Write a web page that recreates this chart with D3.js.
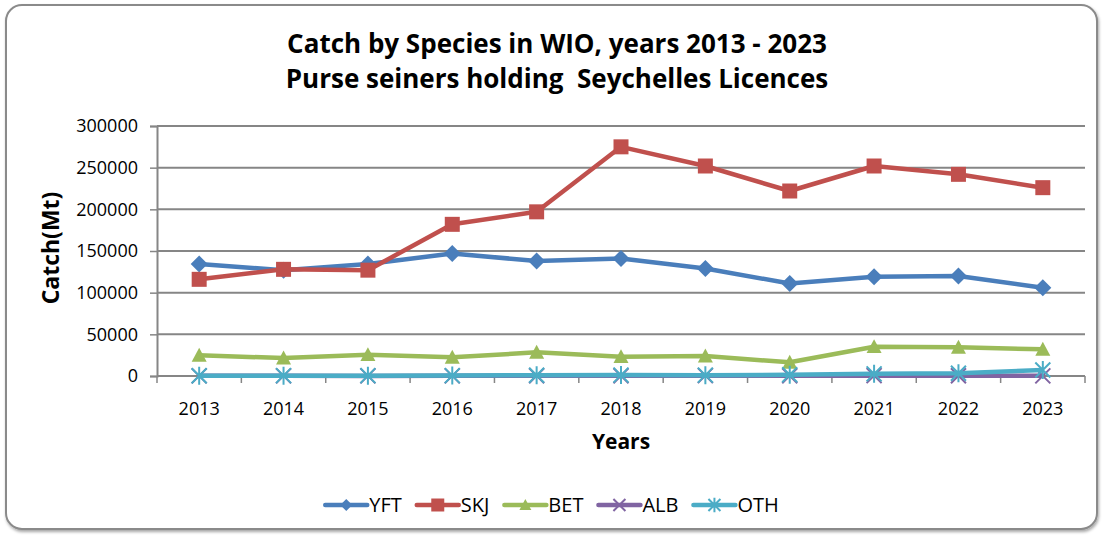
<!DOCTYPE html>
<html>
<head>
<meta charset="utf-8">
<script src="https://cdn.jsdelivr.net/npm/d3@7"></script>
<style>
  body { margin: 0; background: #fff; }
  svg text { font-family: "Open Sans", sans-serif; fill: #000; }
</style>
</head>
<body>
<svg id="chart" width="1102" height="537"></svg>
<script>
// data
var years = ["2013", "2014", "2015", "2016", "2017", "2018", "2019", "2020", "2021", "2022", "2023"];
var yft = [134400, 127000, 134400, 147000, 138000, 141000, 129000, 111000, 119000, 120000, 106000];
var skj = [116000, 128000, 127000, 182000, 197000, 275000, 252000, 222000, 252000, 242000, 226000];
var bet = [24800, 21600, 25600, 22400, 28400, 23200, 24000, 16400, 35200, 34400, 32000];
var alb = [200, 200, 100, 200, 300, 300, 400, 300, 400, 300, 200];
var oth = [300, 400, 400, 500, 900, 1100, 1000, 1500, 2600, 3300, 7200];
var yTicks = [0, 50000, 100000, 150000, 200000, 250000, 300000];

var series = [
  {name: "YFT", values: yft, color: "#4a7ebb", marker: "diamond"},
  {name: "SKJ", values: skj, color: "#c0504d", marker: "square"},
  {name: "BET", values: bet, color: "#9bbb59", marker: "triangle"},
  {name: "ALB", values: alb, color: "#8064a2", marker: "x"},
  {name: "OTH", values: oth, color: "#4bacc6", marker: "star"}
];

var svg = d3.select("#chart");
var plotLeft = 157, plotRight = 1085, plotTop = 126, plotBottom = 376;
var gridColor = "#868686";

// outer frame with a soft shadow
var defs = svg.append("defs");
var f = defs.append("filter").attr("id", "shadow").attr("x", "-5%").attr("y", "-5%").attr("width", "110%").attr("height", "110%");
f.append("feDropShadow").attr("dx", 1).attr("dy", 2).attr("stdDeviation", 1.5).attr("flood-color", "#000").attr("flood-opacity", 0.35);

svg.append("rect")
    .attr("x", 6).attr("y", 5).attr("width", 1091).attr("height", 524)
    .attr("rx", 16).attr("ry", 16)
    .attr("fill", "#fff").attr("stroke", "#8a8a8a").attr("stroke-width", 2)
    .attr("filter", "url(#shadow)");

// titles
svg.append("text").attr("x", 557).attr("y", 53).attr("text-anchor", "middle")
    .style("font-size", "26px").style("font-weight", "bold")
    .text("Catch by Species in WIO, years 2013 - 2023");
svg.append("text").attr("x", 557).attr("y", 88).attr("text-anchor", "middle")
    .attr("xml:space", "preserve")
    .style("font-size", "26px").style("font-weight", "bold")
    .text("Purse seiners holding  Seychelles Licences");

var x = d3.scalePoint().domain(years).range([plotLeft, plotRight]).padding(0.5);
var y = d3.scaleLinear().domain([0, 300000]).range([plotBottom, plotTop]);

// gridlines
svg.append("g").selectAll("line")
    .data(yTicks.slice(1))
    .enter().append("line")
      .attr("x1", plotLeft).attr("x2", plotRight)
      .attr("y1", function(d) { return y(d); })
      .attr("y2", function(d) { return y(d); })
      .attr("stroke", gridColor).attr("stroke-width", 2);

// y axis
var yAxis = svg.append("g")
    .attr("transform", "translate(" + plotLeft + ",0)")
    .call(d3.axisLeft(y).tickValues(yTicks).tickFormat(d3.format("d")).tickSize(7).tickPadding(12));
yAxis.select(".domain").attr("stroke", gridColor).attr("stroke-width", 2);
yAxis.selectAll(".tick line").attr("stroke", gridColor).attr("stroke-width", 1.5);
yAxis.selectAll(".tick text").style("font-size", "18px").style("font-family", "Open Sans").attr("fill", "#000");

// x axis: ticks between categories
var step = x.step();
var bounds = d3.range(years.length + 1).map(function(i) { return plotLeft + i * step; });
svg.append("line").attr("x1", plotLeft).attr("x2", plotRight).attr("y1", plotBottom).attr("y2", plotBottom)
    .attr("stroke", gridColor).attr("stroke-width", 2);
svg.append("g").selectAll("line")
    .data(bounds)
    .enter().append("line")
      .attr("x1", function(d) { return d; }).attr("x2", function(d) { return d; })
      .attr("y1", plotBottom).attr("y2", plotBottom + 7)
      .attr("stroke", gridColor).attr("stroke-width", 1.5);
svg.append("g").selectAll("text")
    .data(years)
    .enter().append("text")
      .attr("x", function(d) { return x(d); })
      .attr("y", 415)
      .attr("text-anchor", "middle")
      .style("font-size", "18px")
      .text(function(d) { return d; });

// axis titles
svg.append("text").attr("x", 621).attr("y", 449).attr("text-anchor", "middle")
    .style("font-size", "21px").style("font-weight", "bold").text("Years");
svg.append("text").attr("transform", "translate(59,248) rotate(-90)").attr("text-anchor", "middle")
    .style("font-size", "23px").style("font-weight", "bold").text("Catch(Mt)");

// marker shapes
function markerPath(type, s) {
  var h = s / 2;
  if (type === "diamond") return "M0," + (-h) + "L" + h + ",0L0," + h + "L" + (-h) + ",0Z";
  if (type === "square") return "M" + (-h) + "," + (-h) + "h" + s + "v" + s + "h" + (-s) + "Z";
  if (type === "triangle") return "M0," + (-h) + "L" + h + "," + (h * 0.85) + "L" + (-h) + "," + (h * 0.85) + "Z";
  if (type === "x") return "M" + (-h) + "," + (-h) + "L" + h + "," + h + "M" + h + "," + (-h) + "L" + (-h) + "," + h;
  // star: x plus vertical stroke
  return "M" + (-h) + "," + (-h) + "L" + h + "," + h + "M" + h + "," + (-h) + "L" + (-h) + "," + h + "M0," + (-h * 1.2) + "L0," + (h * 1.2);
}
function drawMarker(sel, s, size) {
  var open = s.marker === "x" || s.marker === "star";
  sel.append("path")
    .attr("d", markerPath(s.marker, size))
    .attr("fill", open ? "none" : s.color)
    .attr("stroke", s.color)
    .attr("stroke-width", open ? 2 : 0);
}

var line = d3.line()
    .x(function(d, i) { return x(years[i]); })
    .y(function(d) { return y(d); });

series.forEach(function(s) {
  var g = svg.append("g");
  g.append("path")
    .datum(s.values)
    .attr("d", line)
    .attr("fill", "none")
    .attr("stroke", s.color)
    .attr("stroke-width", 4.5)
    .attr("stroke-linejoin", "round");
  g.selectAll("g.pt")
    .data(s.values)
    .enter().append("g")
      .attr("class", "pt")
      .attr("transform", function(d, i) { return "translate(" + x(years[i]) + "," + y(d) + ")"; })
      .each(function() {
        var size = s.marker === "square" ? 15 : (s.marker === "diamond" ? 17 : 15);
        drawMarker(d3.select(this), s, size);
      });
});

// legend
var legend = svg.append("g");
var lx = 0;
series.forEach(function(s) {
  var item = legend.append("g").attr("transform", "translate(" + lx + ",0)");
  item.append("line").attr("x1", 0).attr("x2", 42).attr("y1", 0).attr("y2", 0)
    .attr("stroke", s.color).attr("stroke-width", 4.5).attr("stroke-linecap", "round");
  var m = item.append("g").attr("transform", "translate(21,0)");
  drawMarker(m, s, s.marker === "square" ? 13 : 12);
  var t = item.append("text").attr("x", 44).attr("y", 7).style("font-size", "20px").text(s.name);
  lx += 44 + t.node().getComputedTextLength() + 15;
});
var legendW = lx - 15;
legend.attr("transform", "translate(" + (552 - legendW / 2) + ",505)");
</script>
</body>
</html>
